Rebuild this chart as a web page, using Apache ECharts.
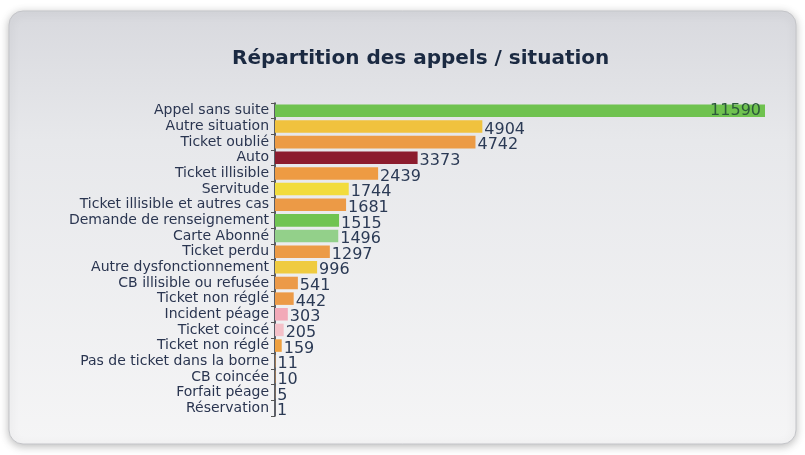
<!DOCTYPE html>
<html>
<head>
<meta charset="utf-8">
<script src="https://cdn.jsdelivr.net/npm/echarts@6/dist/echarts.min.js"></script>
<style>
html,body{margin:0;padding:0;background:#fff;}
#main{width:805px;height:455px;}
</style>
</head>
<body>
<div id="main"></div>
<script>
// categories, top to bottom
var situations = ['Appel sans suite','Autre situation','Ticket oublié','Auto','Ticket illisible','Servitude',
  'Ticket illisible et autres cas','Demande de renseignement','Carte Abonné','Ticket perdu',
  'Autre dysfonctionnement','CB illisible ou refusée','Ticket non réglé','Incident péage','Ticket coincé',
  'Ticket non réglé','Pas de ticket dans la borne','CB coincée','Forfait péage','Réservation'];
var appels = [11590,4904,4742,3373,2439,1744,1681,1515,1496,1297,996,541,442,303,205,159,11,10,5,1];

// bar colours (same order)
var barColors = ['#6fc24f','#f0c23e','#ec9b45','#8c1c2e','#ee9b43','#f2dc3c','#ec9a46','#70c452','#93d08a','#ec9b46',
  '#efcb40','#ec9a48','#ec9a46','#f2a9b8','#f4c0c8','#eea040','#ec9a46','#ec9a46','#ec9a46','#ec9a46'];

var myChart = echarts.init(document.getElementById('main'));

var seriesData = appels.map(function(v,i){
  var item = {value:v, itemStyle:{color:barColors[i]}};
  if (i===0) {
    item.label = {position:'insideRight', offset:[-2,0], color:'#2c5a3a'};
  }
  return item;
});

var option = {
  backgroundColor:'#ffffff',
  graphic:[{
    type:'rect',
    z:-10,
    shape:{x:9,y:11,width:787,height:433,r:14},
    style:{
      fill:new echarts.graphic.LinearGradient(0,0,0,1,[
        {offset:0,color:'#d8d9de'},
        {offset:0.3,color:'#e7e8eb'},
        {offset:1,color:'#f5f5f6'}
      ]),
      stroke:'#c4c5c9',
      lineWidth:1,
      shadowBlur:8,
      shadowColor:'rgba(0,0,0,0.25)',
      shadowOffsetY:2
    }
  }],
  title:{
    text:'Répartition des appels / situation',
    left:227,
    top:44,
    textStyle:{fontFamily:'DejaVu Sans',fontSize:20,fontWeight:'bold',color:'#1b2a42'}
  },
  grid:{left:275,right:40,top:103,bottom:39},
  xAxis:{
    type:'value',
    min:0,
    max:11590,
    show:false
  },
  yAxis:{
    type:'category',
    inverse:true,
    data:situations,
    axisLine:{show:true,lineStyle:{color:'#2a2f3a',width:1.5}},
    axisTick:{show:true,length:4,lineStyle:{color:'#555'}},
    axisLabel:{fontFamily:'DejaVu Sans',fontSize:14,color:'#2a3550',margin:6,interval:0}
  },
  series:[{
    type:'bar',
    data:seriesData,
    barCategoryGap:'20%',
    label:{
      show:true,
      position:'right',
      offset:[0,3],
      distance:2,
      fontFamily:'DejaVu Sans',
      fontSize:16,
      color:'#2b3a55'
    }
  }]
};

myChart.setOption(option);
</script>
</body>
</html>
